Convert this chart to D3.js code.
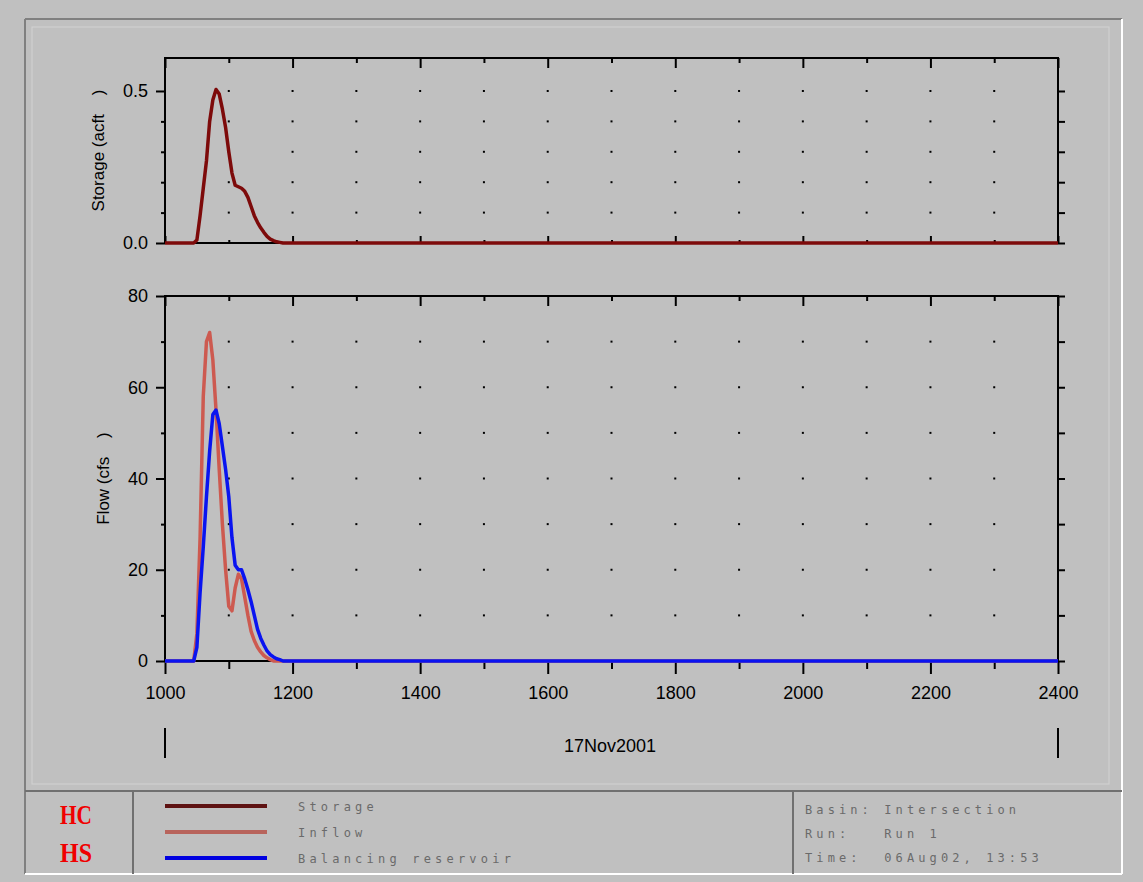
<!DOCTYPE html>
<html>
<head>
<meta charset="utf-8">
<script src="https://cdn.jsdelivr.net/npm/d3@7"></script>
<style>
  body { margin: 0; background: #c0c0c0; }
  text { font-family: "Liberation Sans", Arial, sans-serif; }
  text.mono { font-family: "DejaVu Sans Mono", monospace; white-space: pre; }
  text.logo { font-family: "Liberation Serif", "DejaVu Serif", serif; font-weight: bold; }
</style>
</head>
<body>
<svg id="graph" width="1143" height="882"></svg>
<script>
// data (time in hhmm, 17Nov2001)
var times   = [1000, 1045, 1050, 1055, 1060, 1065, 1070, 1075, 1080, 1085, 1090, 1095, 1100, 1105, 1110, 1115,
               1120, 1125, 1130, 1135, 1140, 1145, 1150, 1155, 1160, 1165, 1170, 1175, 1180, 1185, 1190, 2400];
var storage = [0, 0, 0.01, 0.09, 0.18, 0.27, 0.40, 0.47, 0.505, 0.49, 0.44, 0.38, 0.30, 0.23, 0.19, 0.185,
               0.18, 0.17, 0.15, 0.12, 0.09, 0.068, 0.05, 0.035, 0.022, 0.013, 0.008, 0.004, 0.002, 0, 0, 0];
var inflow  = [0, 0, 6, 27, 58, 70, 72, 66, 55, 42, 30, 20, 12, 11, 16, 19,
               18, 14, 10, 6.5, 4.5, 3, 2, 1.2, 0.7, 0.3, 0, 0, 0, 0, 0, 0];
var outflow = [0, 0, 3, 15, 25, 36, 46, 54, 55, 52, 47, 42, 36, 27, 21, 20,
               20, 18, 15.6, 13, 10, 7, 5, 3.5, 2.2, 1.4, 0.9, 0.5, 0.3, 0, 0, 0];

var xMajor = [1000, 1200, 1400, 1600, 1800, 2000, 2200, 2400];
var xMinor = [1100, 1300, 1500, 1700, 1900, 2100, 2300];
var sMajor = [0, 0.5];
var sMinor = [0.1, 0.2, 0.3, 0.4];
var fMajor = [0, 20, 40, 60, 80];
var fMinor = [10, 30, 50, 70];

var legendNames = ["Storage", "Inflow", "Balancing reservoir"];
var legendColors = ["#5e1212", "#b8645c", "#0000e0"];
var infoLines = ["Basin: Intersection", "Run:   Run 1", "Time:  06Aug02, 13:53"];

var svg = d3.select("#graph");

// cadre extérieur
var W = 1143, H = 882;
svg.append("rect").attr("width", W).attr("height", H).attr("fill", "#c0c0c0");
svg.append("line").attr("x1", 25).attr("y1", 19).attr("x2", 1122).attr("y2", 19).attr("stroke", "#808080").attr("stroke-width", 2);
svg.append("line").attr("x1", 25).attr("y1", 19).attr("x2", 25).attr("y2", 874).attr("stroke", "#808080").attr("stroke-width", 2);
svg.append("line").attr("x1", 25).attr("y1", 874).attr("x2", 1122).attr("y2", 874).attr("stroke", "#ffffff").attr("stroke-width", 2);
svg.append("line").attr("x1", 1122).attr("y1", 19).attr("x2", 1122).attr("y2", 874).attr("stroke", "#ffffff").attr("stroke-width", 2);
svg.append("rect").attr("x", 32).attr("y", 27).attr("width", 1077).attr("height", 757)
    .attr("fill", "none").attr("stroke", "#d2d2d2").attr("stroke-width", 1);
svg.append("line").attr("x1", 25).attr("y1", 791).attr("x2", 1122).attr("y2", 791).attr("stroke", "#707070").attr("stroke-width", 2);
svg.append("line").attr("x1", 133).attr("y1", 791).attr("x2", 133).attr("y2", 874).attr("stroke", "#707070").attr("stroke-width", 2);
svg.append("line").attr("x1", 793).attr("y1", 791).attr("x2", 793).attr("y2", 874).attr("stroke", "#707070").attr("stroke-width", 2);

// échelles
var left = 165, right = 1058;
var x = d3.scaleLinear().domain([1000, 2400]).range([left, right]);
var yS = d3.scaleLinear().domain([0, 0.6085]).range([243, 58]);
var yF = d3.scaleLinear().domain([0, 80]).range([661, 296]);

function ticks(g, gen, vals, size, pad, fmt) {
    g.call(gen.tickValues(vals).tickSize(size).tickPadding(pad).tickFormat(fmt || ""));
    g.select(".domain").remove();
    g.selectAll("line").attr("stroke", "#000").attr("stroke-width", 2);
    g.selectAll("text").attr("font-size", 18).attr("fill", "#000");
}

function panel(y, yMajor, yMinor, fmt, title, titleX) {
    var top = y.range()[1], bottom = y.range()[0];
    // points de grille
    xMinor.concat(xMajor.slice(1, -1)).forEach(function(t) {
        yMinor.concat(yMajor).forEach(function(v) {
            if (v <= y.domain()[0]) return;
            svg.append("rect").attr("x", x(t) - 1).attr("y", y(v) - 1)
                .attr("width", 2).attr("height", 2).attr("fill", "#000");
        });
    });
    // cadre
    svg.append("rect").attr("x", left).attr("y", top).attr("width", right - left).attr("height", bottom - top)
        .attr("fill", "none").attr("stroke", "#000").attr("stroke-width", 2);
    // axes
    ticks(svg.append("g").attr("transform", "translate(" + left + ",0)"), d3.axisLeft(y), yMajor, 9, 8, fmt);
    ticks(svg.append("g").attr("transform", "translate(" + left + ",0)"), d3.axisLeft(y), yMinor, 4, 0);
    ticks(svg.append("g").attr("transform", "translate(" + right + ",0)"), d3.axisRight(y), yMajor.concat(yMinor), 7, 0);
    ticks(svg.append("g").attr("transform", "translate(0," + top + ")"), d3.axisTop(x), xMajor, -10, 0);
    ticks(svg.append("g").attr("transform", "translate(0," + top + ")"), d3.axisTop(x), xMinor, -5, 0);
    svg.append("text")
        .attr("transform", "translate(" + titleX + "," + ((top + bottom) / 2) + ") rotate(-90)")
        .attr("text-anchor", "middle")
        .attr("font-size", 17)
        .style("white-space", "pre")
        .text(title);
}

panel(yS, sMajor, sMinor, d3.format(".1f"), "Storage (acft    )", 104);
panel(yF, fMajor, fMinor, d3.format("d"), "Flow (cfs    )", 109);

// ticks vers l'intérieur en bas du graphique du haut
ticks(svg.append("g").attr("transform", "translate(0,243)"), d3.axisBottom(x), xMajor, -7, 0);
ticks(svg.append("g").attr("transform", "translate(0,243)"), d3.axisBottom(x), xMinor, -3, 0);
// axe du temps en bas
ticks(svg.append("g").attr("transform", "translate(0,661)"), d3.axisBottom(x), xMajor, 13, 12, d3.format("d"));
ticks(svg.append("g").attr("transform", "translate(0,661)"), d3.axisBottom(x), xMinor, 8, 0);

svg.append("text").attr("x", 610).attr("y", 752).attr("text-anchor", "middle")
    .attr("font-size", 18).text("17Nov2001");
[1000, 2400].forEach(function(t) {
    svg.append("line").attr("x1", x(t)).attr("x2", x(t)).attr("y1", 728).attr("y2", 758)
        .attr("stroke", "#000").attr("stroke-width", 2);
});

// courbes
function courbe(y, vals, color) {
    var line = d3.line()
        .x(function(d, i) { return x(times[i]); })
        .y(function(d) { return y(d); });
    svg.append("path")
        .datum(vals)
        .attr("fill", "none")
        .attr("stroke", color)
        .attr("stroke-width", 3.5)
        .attr("stroke-linejoin", "round")
        .attr("d", line);
}
courbe(yS, storage, "#7d0a0a");
courbe(yF, inflow, "#cd5a50");
courbe(yF, outflow, "#0a14f0");

// légende
legendNames.forEach(function(name, i) {
    var ly = 806 + i * 26;
    svg.append("line").attr("x1", 165).attr("x2", 267).attr("y1", ly).attr("y2", ly)
        .attr("stroke", legendColors[i]).attr("stroke-width", 4);
    svg.append("text").attr("class", "mono").attr("x", 298).attr("y", ly + 5)
        .attr("font-size", 12).attr("letter-spacing", 4.2).attr("fill", "#6a6a6a").text(name);
});
infoLines.forEach(function(s, i) {
    svg.append("text").attr("class", "mono").attr("x", 805).attr("y", 814 + i * 24)
        .attr("font-size", 12).attr("letter-spacing", 4.1).attr("fill", "#6a6a6a").text(s);
});

// logos
["HC", "HS"].forEach(function(s, i) {
    svg.append("text").attr("class", "logo").attr("x", 60).attr("y", 824 + i * 38)
        .attr("font-size", 28).attr("textLength", 32).attr("lengthAdjust", "spacingAndGlyphs")
        .attr("fill", "#f00000").text(s);
});
</script>
</body>
</html>
